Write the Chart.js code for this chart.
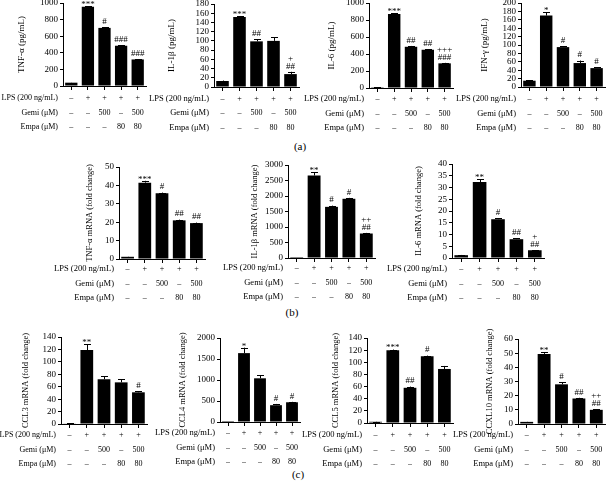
<!DOCTYPE html>
<html>
<head>
<meta charset="utf-8">
<script src="https://cdn.jsdelivr.net/npm/chart.js@4.4.0/dist/chart.umd.min.js"></script>
<style>
  body { margin: 0; background: #fff; width: 606px; height: 489px; position: relative; overflow: hidden; }
  canvas { position: absolute; }
  .tag { position: absolute; font-family: "Liberation Serif", serif; font-size: 11px; color: #000; transform: translateX(-50%); }
</style>
</head>
<body>
<div class="tag" style="left:300px;top:140px">(a)</div>
<div class="tag" style="left:292px;top:306px">(b)</div>
<div class="tag" style="left:298px;top:468px">(c)</div>
<script>
const FONT = '"Liberation Serif", "Times New Roman", serif';

// treatment rows under every chart
const conditionNames = ['LPS (200 ng/mL)', 'Gemi (\u03BCM)', 'Empa (\u03BCM)'];
const lpsRow = ['\u2013', '+', '+', '+', '+'];
const gemiRow = ['\u2013', '\u2013', '500', '\u2013', '500'];
const empaRow = ['\u2013', '\u2013', '\u2013', '80', '80'];

// (a) protein levels
const tnfProtein = [40, 955, 700, 485, 320];
const tnfProteinErr = [2, 8, 8, 6, 5];
const tnfProteinSig = ['', '***', '#', '###', '###'];

const il1bProtein = [13, 152, 99, 100, 28];
const il1bProteinErr = [1, 2, 5, 8, 5];
const il1bProteinSig = ['', '***', '##', '', '+\n##'];

const il6Protein = [10, 870, 485, 450, 290];
const il6ProteinErr = [1, 12, 10, 8, 6];
const il6ProteinSig = ['', '***', '##', '##', '+++\n###'];

const ifngProtein = [15, 170, 95, 57, 45];
const ifngProteinErr = [1, 8, 2, 6, 2];
const ifngProteinSig = ['', '*', '#', '#', '#'];

// (b) mRNA fold change
const tnfMrna = [1.2, 41.5, 35.8, 21, 19.5];
const tnfMrnaErr = [0.1, 1, 0.3, 0.4, 0.3];
const tnfMrnaSig = ['', '***', '#', '##', '##'];

const il1bMrna = [1, 2660, 1650, 1910, 790];
const il1bMrnaErr = [0, 110, 40, 30, 20];
const il1bMrnaSig = ['', '**', '#', '#', '++\n##'];

const il6Mrna = [1.2, 32.3, 16.5, 8, 3.3];
const il6MrnaErr = [0.1, 1.2, 0.4, 0.4, 0.1];
const il6MrnaSig = ['', '**', '#', '##', '+\n##'];

// (c) chemokine mRNA
const ccl3Mrna = [1, 119, 72, 67, 51];
const ccl3MrnaErr = [0.2, 9, 5, 5, 1.5];
const ccl3MrnaSig = ['', '**', '', '', '#'];

const ccl4Mrna = [1, 1640, 1040, 400, 470];
const ccl4MrnaErr = [0, 130, 70, 30, 10];
const ccl4MrnaSig = ['', '*', '', '#', '#'];

const ccl5Mrna = [2, 120, 58, 110, 89];
const ccl5MrnaErr = [0.3, 1, 2, 1, 5];
const ccl5MrnaSig = ['', '***', '##', '#', ''];

const cxcl10Mrna = [1.5, 49.5, 28, 18, 10];
const cxcl10MrnaErr = [0.1, 1, 1.5, 0.5, 0.5];
const cxcl10MrnaSig = ['', '**', '#', '##', '++\n##'];

const ROW_GAP = 14.5;
const PAD_LEFT = 72;
const PAD_TOP = 16;

const panels = [
  { title: 'TNF-\u03B1 (pg/mL)', data: tnfProtein, err: tnfProteinErr, sig: tnfProteinSig, max: 1000, step: 200, x0: 63, x1: 146, top: 3, bottom: 86, first: 12, gap: 41, tsize: 9, rsize: 8 },
  { title: 'IL-1\u03B2 (pg/mL)', data: il1bProtein, err: il1bProteinErr, sig: il1bProteinSig, max: 180, step: 20, x0: 214, x1: 299, top: 4, bottom: 87, first: 11.5, gap: 42, tsize: 9, rsize: 8.5 },
  { title: 'IL-6 (pg/mL)', data: il6Protein, err: il6ProteinErr, sig: il6ProteinSig, max: 1000, step: 200, x0: 369, x1: 453, top: 3, bottom: 88, first: 11, gap: 37, tsize: 9, rsize: 8.5 },
  { title: 'IFN-\u03B3 (pg/mL)', data: ifngProtein, err: ifngProteinErr, sig: ifngProteinSig, max: 200, step: 20, x0: 521, x1: 605, top: 3, bottom: 87, first: 12, gap: 36, tsize: 9, rsize: 8.5 },
  { title: 'TNF-\u03B1 mRNA (fold change)', data: tnfMrna, err: tnfMrnaErr, sig: tnfMrnaSig, max: 50, step: 10, x0: 119, x1: 205, top: 167, bottom: 259, first: 10, gap: 29, tsize: 8.5, rsize: 8.5 },
  { title: 'IL-1\u03B2 mRNA (fold change)', data: il1bMrna, err: il1bMrnaErr, sig: il1bMrnaSig, max: 3000, step: 500, x0: 288, x1: 375, top: 165, bottom: 258, first: 10, gap: 33, tsize: 8.5, rsize: 8.5 },
  { title: 'IL-6 mRNA (fold change)', data: il6Mrna, err: il6MrnaErr, sig: il6MrnaSig, max: 40, step: 5, x0: 452, x1: 544, top: 164, bottom: 258, first: 11, gap: 33, tsize: 8.5, rsize: 8.5 },
  { title: 'CCL3 mRNA (fold change)', data: ccl3Mrna, err: ccl3MrnaErr, sig: ccl3MrnaSig, max: 140, step: 20, x0: 61, x1: 147, top: 337, bottom: 424, first: 11, gap: 35, tsize: 8.5, rsize: 8 },
  { title: 'CCL4 mRNA (fold change)', data: ccl4Mrna, err: ccl4MrnaErr, sig: ccl4MrnaSig, max: 2000, step: 500, x0: 220, x1: 300, top: 338, bottom: 422, first: 11, gap: 37, tsize: 8.5, rsize: 8.5 },
  { title: 'CCL5 mRNA (fold change)', data: ccl5Mrna, err: ccl5MrnaErr, sig: ccl5MrnaSig, max: 140, step: 20, x0: 367, x1: 453, top: 338, bottom: 423, first: 12, gap: 31, tsize: 8.5, rsize: 8.5 },
  { title: 'CCXL10 mRNA (fold change)', data: cxcl10Mrna, err: cxcl10MrnaErr, sig: cxcl10MrnaSig, max: 60, step: 10, x0: 518, x1: 605, top: 339, bottom: 424, first: 11, gap: 28, tsize: 8.5, rsize: 8.5 }
];

const panelOf = new Map();

// error bars, significance marks and the row names on the left
const extrasPlugin = {
  id: 'extras',
  afterDatasetsDraw(chart) {
    const p = panelOf.get(chart.canvas);
    if (!p) return;
    const ctx = chart.ctx;
    const ys = chart.scales.y;
    const meta = chart.getDatasetMeta(0);
    ctx.save();
    ctx.strokeStyle = '#000';
    ctx.fillStyle = '#000';
    ctx.lineWidth = 1;
    meta.data.forEach((bar, i) => {
      const yv = ys.getPixelForValue(p.data[i]);
      const ye = ys.getPixelForValue(p.data[i] + p.err[i]);
      const x = Math.round(bar.x) + 0.5;
      if (p.err[i] > 0) {
        ctx.beginPath();
        ctx.moveTo(x, yv);
        ctx.lineTo(x, ye);
        ctx.moveTo(x - 3.5, Math.round(ye) + 0.5);
        ctx.lineTo(x + 3.5, Math.round(ye) + 0.5);
        ctx.stroke();
      }
      if (p.sig[i]) {
        const lines = p.sig[i].split('\n').reverse();
        ctx.font = '9px ' + FONT;
        ctx.textAlign = 'center';
        ctx.textBaseline = 'bottom';
        lines.forEach((t, k) => {
          const star = t.indexOf('*') >= 0;
          ctx.fillText(t, bar.x, ye - 1 - k * 8 + (star ? 4 : 0));
        });
      }
    });
    ctx.font = p.rsize + 'px ' + FONT;
    ctx.textAlign = 'right';
    ctx.textBaseline = 'middle';
    conditionNames.forEach((name, k) => {
      ctx.fillText(name, chart.chartArea.left - 5, chart.chartArea.bottom + p.first + k * ROW_GAP);
    });
    ctx.restore();
  }
};

function makeChart(p) {
  const left = p.x0 - PAD_LEFT;
  const top = p.top - PAD_TOP;
  const width = p.x1 - left + 3;
  const plotH = p.bottom - p.top;
  const height = plotH + PAD_TOP + 48;
  const yWidth = p.gap + 5.4;
  const cv = document.createElement('canvas');
  cv.width = width;
  cv.height = height;
  cv.style.left = left + 'px';
  cv.style.top = top + 'px';
  cv.style.width = width + 'px';
  cv.style.height = height + 'px';
  document.body.appendChild(cv);
  panelOf.set(cv, p);

  new Chart(cv, {
    type: 'bar',
    data: {
      labels: lpsRow.map((v, i) => [lpsRow[i], gemiRow[i], empaRow[i]]),
      datasets: [{
        data: p.data,
        backgroundColor: '#000',
        borderWidth: 0,
        barPercentage: 0.74,
        categoryPercentage: 1
      }]
    },
    options: {
      responsive: false,
      animation: false,
      layout: { padding: { left: PAD_LEFT - yWidth, top: PAD_TOP, right: 3, bottom: 0 } },
      plugins: { legend: { display: false }, tooltip: { enabled: false } },
      scales: {
        x: {
          grid: { drawOnChartArea: false, offset: false, tickLength: 4, color: '#000' },
          border: { color: '#000', width: 1 },
          ticks: {
            color: '#000',
            autoSkip: false,
            maxRotation: 0,
            minRotation: 0,
            padding: p.first - 4 - ROW_GAP / 2,
            font: { family: FONT, size: 8, lineHeight: ROW_GAP / 8 }
          },
          afterFit(s) { s.height = height - PAD_TOP - plotH; }
        },
        y: {
          min: 0,
          max: p.max,
          grid: { drawOnChartArea: false, tickLength: 3, color: '#000' },
          border: { color: '#000', width: 1 },
          ticks: {
            stepSize: p.step,
            autoSkip: false,
            color: '#000',
            padding: 2,
            font: { family: FONT, size: 9 },
            callback: v => String(v)
          },
          title: { display: true, text: p.title, color: '#000', padding: 0, font: { family: FONT, size: p.tsize } },
          afterFit(s) { s.width = yWidth; }
        }
      }
    },
    plugins: [extrasPlugin]
  });
}

panels.forEach(makeChart);
</script>
</body>
</html>
